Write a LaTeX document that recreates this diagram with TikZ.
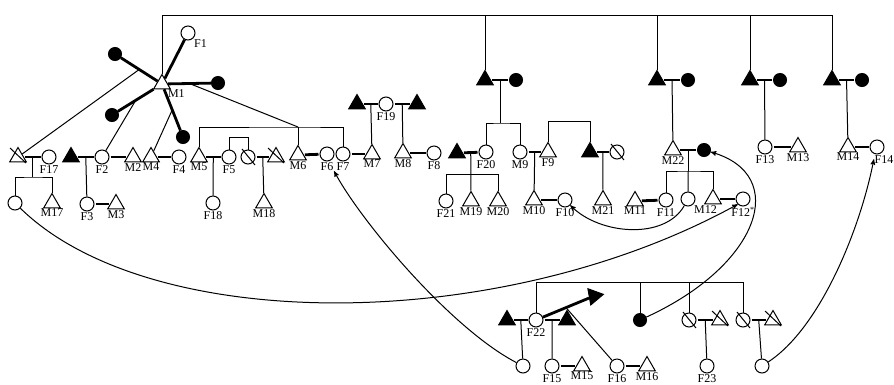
\documentclass[tikz,border=0pt]{standalone}
\usepackage{fontspec}
\setmainfont{Liberation Serif}
\usetikzlibrary{arrows}
\usetikzlibrary{calc}
\usetikzlibrary{positioning}
\usetikzlibrary{shapes.geometric}

\begin{document}
\begin{tikzpicture}[x=1pt,y=-1pt,line width=1pt,
    male/.style={draw,regular polygon,regular polygon sides=3,minimum size=19pt,inner sep=0pt},
    female/.style={draw,circle,minimum size=14pt,inner sep=0pt},
    dmale/.style={male,fill=black},
    dfemale/.style={female,fill=black,minimum size=13pt},
    ego/.style={dmale,shape border rotate=-80},
    bar/.style={line width=2.8pt,shorten <=1pt,shorten >=1pt},
    spoke/.style={line width=2.8pt},
    link/.style={->,>=stealth'},
    every label/.style={font=\fontsize{12}{14}\selectfont,inner sep=0.3pt},
    label distance=0pt]

  \useasboundingbox (0,0) rectangle (894,384);

  % M1 and his wives
  \node [male,label={below right:M1}] (M1) at (162,84) {};
  \node [female,label={below right:F1}] (F1) at (188,33) {};
  \node [dfemale] (Wa) at (115,54) {};
  \node [dfemale] (Wb) at (218,83) {};
  \node [dfemale] (Wc) at (112,115) {};
  \node [dfemale] (Wd) at (183,137) {};

  % top couples
  \node [dmale] (Pa) at (485,80) {};
  \node [dfemale] (Qa) at (516,80) {};
  \node [dmale] (Pb) at (657,80) {};
  \node [dfemale] (Qb) at (688,80) {};
  \node [dmale] (Pc) at (750,80) {};
  \node [dfemale] (Qc) at (780,80) {};
  \node [dmale] (Pd) at (832,80) {};
  \node [dfemale] (Qd) at (862,80) {};

  % main row
  \node [male] (X17) at (18,157) {};
  \node [female,label=below:F17] (F17) at (49,157) {};
  \node [female] (C17) at (15,203) {};
  \node [male,label=below:M17] (M17) at (52,203) {};
  \node [dmale] (A2) at (71,157) {};
  \node [female,label=below:F2] (F2) at (102,157) {};
  \node [female,label=below:F3] (F3) at (87,204) {};
  \node [male,label=below:M3] (M3) at (116,204) {};
  \node [male,label=below:M2] (M2) at (133,157) {};
  \node [male,label=below:M4] (M4) at (151,157) {};
  \node [female,label=below:F4] (F4) at (179,157) {};
  \node [male,label=below:M5] (M5) at (199,157) {};
  \node [female,label=below:F5] (F5) at (229,157) {};
  \node [female,label=below:F18] (F18) at (213,203) {};
  \node [female] (XF5) at (248,157) {};
  \node [male] (XM18) at (276,157) {};
  \node [male,label=below:M18] (M18) at (264,203) {};
  \node [male,label=below:M6] (M6) at (298,155) {};
  \node [female,label={[name=lF6]below:F6}] (F6) at (327,154) {};
  \node [female,label=below:F7] (F7) at (343,154) {};
  \node [male,label=below:M7] (M7) at (372,154) {};
  \node [dmale] (A19) at (357,104) {};
  \node [female,label=below:F19] (F19) at (386,104) {};
  \node [dmale] (B19) at (417,104) {};
  \node [male,label=below:M8] (M8) at (403,153) {};
  \node [female,label=below:F8] (F8) at (434,153) {};
  \node [dmale] (A20) at (457,153) {};
  \node [female,label=below:F20] (F20) at (486,152) {};
  \node [female,label=below:F21] (F21) at (446,201) {};
  \node [male,label=below:M19] (M19) at (471,201) {};
  \node [male,label=below:M20] (M20) at (498,201) {};
  \node [female,label=below:M9] (M9) at (520,152) {};
  \node [male,label=below:F9] (F9) at (548,152) {};
  \node [male,label=below:M10] (M10) at (534,200) {};
  \node [female,label=below:F10] (F10) at (565,200) {};
  \node [dmale] (A21) at (590,152) {};
  \node [female] (X21) at (617,152) {};
  \node [male,label=below:M21] (M21) at (603,200) {};
  \node [male,label=below:M11] (M11) at (635,201) {};
  \node [female,label=below:F11] (F11) at (666,200) {};
  \node [male,label=below:M22] (M22) at (673,150) {};
  \node [dfemale] (W22) at (704,150) {};
  \node [female,label={below right:M12}] (M12) at (688,199) {};
  \node [male] (T12) at (713,199) {};
  \node [female,label={below:F12\textsuperscript{*}}] (F12) at (743,199) {};
  \node [female,label=below:F13] (F13) at (765,147) {};
  \node [male,label=below:M13] (M13) at (798,147) {};
  \node [male,label=below:M14] (M14) at (848,147) {};
  \node [female,label={[name=lF14,xshift=7pt]below:F14}] (F14) at (877,147) {};

  % bottom group
  \node [dmale] (A22) at (507,320) {};
  \node [female,label=below:F22] (F22) at (536,320) {};
  \node [dmale] (B22) at (567,320) {};
  \node [female] (C22) at (523,366) {};
  \node [female,label=below:F15] (F15) at (552,366) {};
  \node [male,label=below:M15] (M15) at (582,366) {};
  \node [ego] (R22) at (594,296) {};
  \node [female,label=below:F16] (F16) at (617,366) {};
  \node [male,label=below:M16] (M16) at (647,366) {};
  \node [dfemale] (W23) at (640,320) {};
  \node [female] (XC1) at (689,320) {};
  \node [male] (XT1) at (720,320) {};
  \node [female,label=below:F23] (F23) at (707,366) {};
  \node [female] (XC2) at (743,320) {};
  \node [male] (XT2) at (773,320) {};
  \node [female] (C23) at (762,366) {};

  % dead
  \foreach \n in {X17,XM18,XT1,XT2}
    \draw ($(\n)+(-8,-9)$) -- ($(\n)+(8,6)$);
  \foreach \n in {XF5,X21,XC1,XC2}
    \draw ($(\n)+(-6,-8)$) -- ($(\n)+(7,8)$);

  % M1 spokes
  \draw [spoke] (M1) -- (F1);
  \draw [spoke] (M1) -- coordinate (sa) (Wa);
  \draw [spoke] (M1) -- coordinate (sb) (Wb);
  \draw [spoke] (M1) -- coordinate (sc) (Wc);
  \draw [spoke] (M1) -- coordinate (sd) (Wd);
  \draw (sa) -- (X17);
  \draw (sc) -- (F2);
  \draw (sd) -- (M4);
  \coordinate (kids1) at (298,127);
  \draw (sb) -- (kids1);
  \draw (M5) |- (kids1) -| (F7);
  \draw (kids1) -- (M6);

  % roof
  \coordinate (roof) at (0,15);
  \draw (M1) |- (roof -| Pd) -- (Pd);
  \foreach \n in {Pa,Pb,Pc}
    \draw (roof -| \n) -- (\n);

  % marriages
  \draw [bar] (X17) -- coordinate (b17) (F17);
  \draw [bar] (A2) -- coordinate (b2) (F2);
  \draw [bar] (F2) -- (M2);
  \draw [bar] (F3) -- (M3);
  \draw [bar] (M4) -- (F4);
  \draw [bar] (M5) -- coordinate (b5) (F5);
  \draw [bar] (XF5) -- coordinate (b18) (XM18);
  \draw [bar] (M6) -- (F6);
  \draw [bar] (F7) -- (M7);
  \draw [bar] (A19) -- coordinate (b19a) (F19);
  \draw [bar] (F19) -- coordinate (b19b) (B19);
  \draw [bar] (M8) -- (F8);
  \draw [bar] (A20) -- coordinate (b20) (F20);
  \draw [bar] (M9) -- coordinate (b9) (F9);
  \draw [bar] (M10) -- (F10);
  \draw [bar] (A21) -- coordinate (b21) (X21);
  \draw [bar] (M11) -- (F11);
  \draw [bar] (M22) -- coordinate (b22) (W22);
  \draw [bar] (T12) -- (F12);
  \draw [bar] (Pa) -- coordinate (ba) (Qa);
  \draw [bar] (Pb) -- coordinate (bb) (Qb);
  \draw [bar] (Pc) -- coordinate (bc) (Qc);
  \draw [bar] (Pd) -- coordinate (bd) (Qd);
  \draw [bar] (F13) -- (M13);
  \draw [bar] (M14) -- (F14);
  \draw [bar] (A22) -- coordinate (b22a) (F22);
  \draw [bar] (F22) -- coordinate (b22b) (B22);
  \draw [bar] (F15) -- (M15);
  \draw [bar] (F16) -- (M16);
  \draw [bar] (XC1) -- coordinate (bx1) (XT1);
  \draw [bar] (XC2) -- coordinate (bx2) (XT2);

  % descent
  \draw (b17) -- ++(0,20) coordinate (k17);
  \draw (C17) |- (k17) -| (M17);
  \draw (b2) -- (F3);
  \draw (b5) -- (F18);
  \draw (b18) -- (M18);
  \draw (b19a) -- (M7);
  \draw (b19b) -- (M8);
  \draw (b20) -- (M19);
  \path (b20) ++(0,22) coordinate (k20);
  \draw (F21) |- (k20) -| (M20);
  \draw (b9) -- (M10);
  \draw (b21) -- (M21);
  \draw (ba) -- ++(0,43) coordinate (ka);
  \draw (F20) |- (ka) -| (M9);
  \draw (bb) -- (M22);
  \draw (bc) -- (F13);
  \draw (bd) -- (M14);
  \draw (b22) -- ++(0,21) coordinate (k22);
  \draw (F11) |- (k22) -| (T12);
  \draw (k22) -- (M12);

  % siblings
  \draw (F5.north) -- ++(0,-12) -| (XF5.north);
  \draw (F9.north) -- ++(0,-20) -| (A21.north);

  % bottom group
  \draw (b22a) -- (C22);
  \draw (b22b) -- (F15);
  \draw [spoke] (F22) -- coordinate (sr) (R22);
  \draw (sr) -- (F16);
  \coordinate (sib) at (0,282);
  \draw (F22) |- (sib -| XC2) -- (XC2);
  \foreach \n in {W23,XC1}
    \draw (sib -| \n) -- (\n);
  \draw (bx1) -- (F23);
  \draw (bx2) -- (C23);

  % links
  \draw [link] (C17) .. controls (150,335) and (500,335) .. (F12.225);
  \draw [link] (C22) .. controls (450,328) and (360,220) .. (lF6.south east);
  \draw [link] (W23) .. controls (760,265) and (790,175) .. (W22);
  \draw [link] (C23) .. controls (820,328) and (860,230) .. (lF14.west);
  \draw [link] (M12) .. controls (665,240) and (600,235) .. (F10);

\end{tikzpicture}
\end{document}
